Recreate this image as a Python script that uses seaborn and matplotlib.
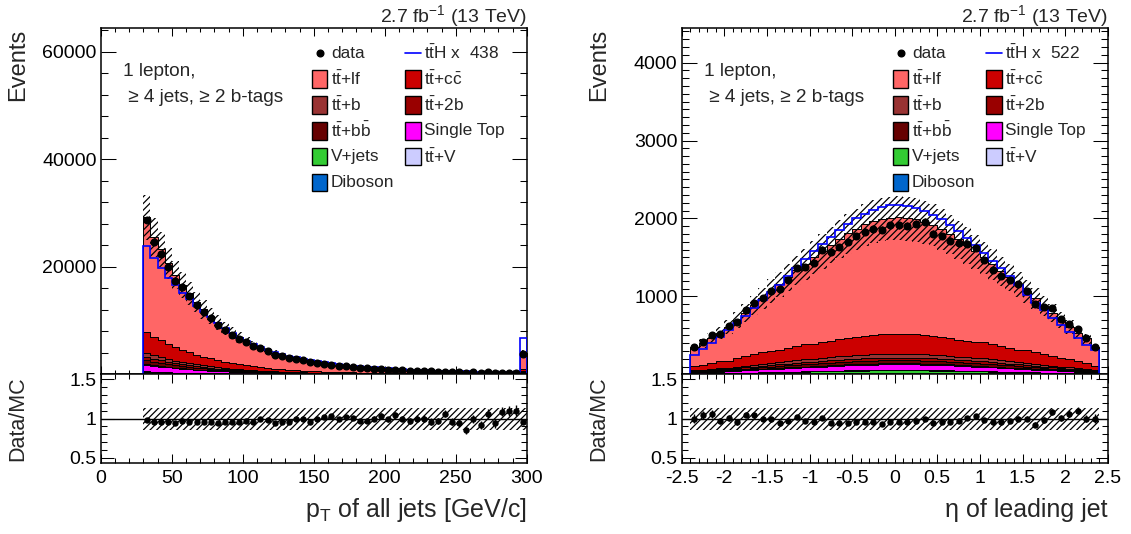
import numpy as np
import pandas as pd
import matplotlib
matplotlib.use("Agg")
import matplotlib.pyplot as plt
import seaborn as sns
from matplotlib.patches import Rectangle
from matplotlib.lines import Line2D
from matplotlib.ticker import MultipleLocator, FixedLocator, FixedFormatter, FuncFormatter

# ======================= DATA: left panel (pT of all jets) =======================
pt_edges = list(range(30, 305, 5))          # 54 bins, last bin carries the overflow
pt_ttlf = [21380, 18690, 17010, 15110, 13500, 12195, 11025, 9854, 8834, 7956,
           7081, 6278, 5621, 5001, 4454, 3978, 3541, 3176, 2846, 2554,
           2299, 2081, 1876, 1700, 1540, 1402, 1276, 1168, 1066, 979,
           897, 825, 759, 701, 645, 595, 551, 511, 474, 441,
           409, 380, 353, 328, 306, 287, 266, 251, 233, 219,
           205, 193, 182, 2846]
pt_ttcc = [3900, 3400, 3100, 2750, 2460, 2220, 2010, 1796, 1609, 1450,
           1290, 1144, 1024, 911, 811, 725, 645, 579, 519, 466,
           419, 379, 342, 310, 281, 255, 233, 213, 194, 178,
           164, 150, 138, 128, 118, 108, 100, 93, 86, 80,
           74, 69, 65, 60, 56, 52, 49, 45, 43, 40,
           38, 35, 33, 519]
pt_ttb = [760, 670, 605, 540, 480, 435, 393, 351, 315, 283,
          252, 224, 200, 178, 159, 142, 126, 113, 101, 91,
          82, 74, 67, 61, 55, 50, 46, 42, 38, 35,
          32, 29, 27, 25, 23, 21, 20, 18, 17, 16,
          15, 14, 13, 12, 11, 10, 10, 9, 8, 8,
          7, 7, 7, 101]
pt_tt2b = [620, 540, 490, 435, 390, 350, 317, 284, 254, 229,
           204, 181, 162, 144, 128, 114, 102, 91, 82, 74,
           66, 60, 54, 49, 44, 40, 37, 34, 31, 28,
           26, 24, 22, 20, 19, 17, 16, 15, 14, 13,
           12, 11, 10, 9, 9, 8, 8, 7, 7, 6,
           6, 6, 5, 82]
pt_ttbb = [700, 610, 560, 500, 445, 400, 360, 324, 290, 262,
           233, 206, 185, 164, 146, 131, 116, 104, 94, 84,
           76, 68, 62, 56, 51, 46, 42, 38, 35, 32,
           30, 27, 25, 23, 21, 20, 18, 17, 16, 15,
           13, 12, 12, 11, 10, 9, 9, 8, 8, 7,
           7, 6, 6, 94]
pt_ttv = [120, 100, 95, 85, 75, 67, 60, 54, 48, 44,
          39, 34, 31, 27, 24, 22, 19, 17, 16, 14,
          13, 11, 10, 9, 8, 8, 7, 6, 6, 5,
          5, 5, 4, 4, 4, 3, 3, 3, 3, 2,
          2, 2, 2, 2, 2, 2, 1, 1, 1, 1,
          1, 1, 1, 16]
pt_st = [1290, 1130, 1025, 910, 815, 735, 665, 594, 532, 480,
         427, 378, 339, 301, 268, 240, 213, 191, 172, 154,
         139, 125, 113, 103, 93, 84, 77, 70, 64, 59,
         54, 50, 46, 42, 39, 36, 33, 31, 29, 27,
         25, 23, 21, 20, 18, 17, 16, 15, 14, 13,
         12, 12, 11, 172]
pt_vjets = [470, 410, 370, 330, 295, 265, 240, 216, 194, 174,
            155, 138, 123, 110, 98, 87, 78, 70, 62, 56,
            50, 46, 41, 37, 34, 31, 28, 26, 23, 21,
            20, 18, 17, 15, 14, 13, 12, 11, 10, 10,
            9, 8, 8, 7, 7, 6, 6, 5, 5, 5,
            5, 4, 4, 62]
pt_diboson = [60, 50, 45, 40, 37, 33, 30, 27, 24, 22,
              19, 17, 15, 14, 12, 11, 10, 9, 8, 7,
              6, 6, 5, 5, 4, 4, 4, 3, 3, 3,
              2, 2, 2, 2, 2, 2, 2, 1, 1, 1,
              1, 1, 1, 1, 1, 1, 1, 1, 1, 1,
              1, 1, 1, 8]
pt_tth = [23850, 21550, 19700, 17950, 16600, 15050, 13930, 12690, 11630, 10590,
          9580, 8540, 7600, 6800, 6230, 5600, 5050, 4600, 4200, 3800,
          3450, 3150, 2880, 2640, 2420, 2220, 2040, 1880, 1730, 1600,
          1480, 1370, 1270, 1180, 1100, 1025, 955, 890, 830, 775,
          725, 680, 635, 595, 560, 525, 495, 465, 440, 415,
          390, 370, 350, 6700]
pt_data = [28700, 24600, 22400, 19900, 17400, 16200, 14500, 12960, 11600, 10460,
           9120, 8260, 7390, 6580, 5920, 5230, 4800, 4260, 3670, 3360,
           3020, 2820, 2570, 2240, 2090, 1960, 1800, 1600, 1490, 1350,
           1190, 1100, 1040, 990, 876, 848, 755, 679, 650, 605,
           538, 504, 514, 432, 395, 333, 362, 315, 339, 282,
           307, 289, 275, 3740]
pt_tth_scale = 438

# ======================= DATA: right panel (eta of leading jet) =======================
eta_edges = [round(-2.4 + 0.1 * i, 2) for i in range(49)]   # 48 bins
eta_ttlf = [237, 275, 323, 365, 433, 497, 561, 628, 695,
            781, 844, 907, 971, 1031,
            1115, 1175, 1235, 1290, 1343, 1387, 1428, 1458, 1480, 1493,
            1498, 1488, 1475, 1454, 1425, 1383, 1339, 1289, 1231, 1171,
            1089, 1029, 966, 906, 840,
            757, 693, 625, 561, 497, 420, 365, 316, 237]
eta_ttcc = [57, 66, 78, 87, 92, 105, 119, 133, 147,
            148, 160, 173, 184, 196,
            190, 200, 210, 219, 228, 236, 243, 248, 251, 253,
            253, 253, 251, 247, 242, 235, 227, 219, 209, 199,
            207, 195, 184, 172, 159,
            160, 146, 132, 119, 105, 101, 87, 76, 57]
eta_ttb = [10, 12, 14, 16, 17, 20, 22, 25, 27,
           28, 30, 33, 35, 37,
           38, 40, 42, 44, 45, 47, 48, 49, 50, 50,
           50, 50, 50, 49, 48, 47, 45, 43, 42, 40,
           39, 37, 35, 32, 30,
           30, 27, 25, 22, 20, 18, 16, 14, 10]
eta_tt2b = [7, 8, 10, 11, 12, 13, 15, 17, 19,
            19, 21, 23, 24, 26,
            26, 27, 28, 30, 31, 32, 33, 33, 34, 34,
            34, 34, 34, 33, 33, 32, 31, 29, 28, 27,
            27, 25, 24, 22, 21,
            20, 19, 17, 15, 13, 13, 11, 10, 7]
eta_ttbb = [8, 10, 11, 13, 13, 15, 17, 19, 22,
            23, 24, 26, 28, 30,
            30, 32, 33, 35, 36, 37, 39, 39, 40, 40,
            40, 40, 40, 39, 38, 37, 36, 35, 33, 32,
            32, 30, 28, 26, 24,
            23, 21, 19, 17, 15, 15, 13, 11, 8]
eta_ttv = [3, 3, 4, 4, 5, 6, 6, 7, 8,
           8, 8, 9, 9, 10,
           11, 11, 12, 12, 13, 13, 13, 14, 14, 14,
           14, 14, 14, 14, 13, 13, 13, 12, 12, 11,
           11, 10, 9, 9, 8,
           9, 8, 7, 6, 6, 5, 4, 4, 3]
eta_st = [14, 16, 19, 21, 23, 27, 30, 34, 37,
          40, 43, 46, 49, 53,
          54, 57, 60, 63, 65, 67, 69, 71, 72, 72,
          72, 72, 72, 71, 69, 67, 65, 62, 60, 57,
          56, 52, 49, 46, 43,
          40, 37, 33, 30, 27, 24, 21, 18, 14]
eta_vjets = [8, 9, 10, 12, 14, 16, 18, 20, 23,
             26, 28, 30, 32, 34,
             38, 40, 42, 44, 45, 47, 48, 49, 50, 50,
             50, 50, 50, 49, 48, 47, 45, 43, 42, 40,
             36, 34, 32, 30, 28,
             24, 22, 20, 18, 16, 13, 12, 10, 8]
eta_diboson = [1, 1, 1, 1, 1, 1, 2, 2, 2,
               2, 2, 3, 3, 3,
               3, 3, 3, 3, 4, 4, 4, 4, 4, 4,
               4, 4, 4, 4, 4, 4, 4, 3, 3, 3,
               3, 3, 3, 2, 2,
               2, 2, 2, 2, 1, 1, 1, 1, 1]
eta_tth = [252, 320, 400, 485, 570, 660, 750, 850, 950, 1050,
           1150, 1260, 1370, 1480, 1580, 1670, 1760, 1850, 1930, 2000,
           2060, 2110, 2150, 2170, 2170, 2160, 2140, 2100, 2050, 1990,
           1920, 1840, 1750, 1660, 1560, 1460, 1360, 1260, 1150, 1020,
           920, 820, 720, 630, 540, 460, 380, 310]
eta_data = [345, 416, 498, 514, 616, 665, 830, 920, 980, 1064,
            1090, 1213, 1362, 1377, 1430, 1601, 1565, 1636, 1701, 1777,
            1829, 1867, 1855, 1910, 1914, 1905, 1930, 1960, 1805, 1772,
            1715, 1683, 1677, 1627, 1470, 1344, 1264, 1208, 1155, 1065,
            897, 862, 853, 707, 647, 583, 460, 345]
eta_tth_scale = 522

# relative systematic band (read from the hatched areas)
band_up = 0.135
band_dn = 0.145

# ======================= STYLE =======================
STACK_ORDER = ["tt+lf", "tt+cc", "tt+b", "tt+2b", "tt+bb", "tt+V",
               "Single Top", "Diboson", "V+jets"]          # top -> bottom
COLORS = {"tt+lf": "#FF6666", "tt+cc": "#CC0000", "tt+b": "#993333",
          "tt+2b": "#990000", "tt+bb": "#660000", "Single Top": "#FF00FF",
          "V+jets": "#33CC33", "tt+V": "#CCCCFF", "Diboson": "#0066CC"}
TT = r"t$\bar{\mathrm{t}}$"
LABELS = {"tt+lf": TT + "+lf", "tt+cc": TT + r"+c$\bar{\mathrm{c}}$",
          "tt+b": TT + "+b", "tt+2b": TT + "+2b",
          "tt+bb": TT + r"+b$\bar{\mathrm{b}}$", "Single Top": "Single Top",
          "V+jets": "V+jets", "tt+V": TT + "+V", "Diboson": "Diboson"}

sns.set_style("ticks")
plt.rcParams["font.family"] = ["Liberation Sans", "DejaVu Sans"]
plt.rcParams["mathtext.fontset"] = "custom"
plt.rcParams["mathtext.rm"] = "Liberation Sans"
plt.rcParams["mathtext.it"] = "Liberation Sans:italic"
plt.rcParams["mathtext.bf"] = "Liberation Sans:bold"
plt.rcParams["hatch.linewidth"] = 0.9
plt.rcParams["axes.unicode_minus"] = False

W, H = 1131, 534
fig = plt.figure(figsize=(W / 100, H / 100), dpi=100)


def px_rect(x0, y0, x1, y1):
    return [x0 / W, 1 - y1 / H, (x1 - x0) / W, (y1 - y0) / H]


axL = fig.add_axes(px_rect(100.7, 28.3, 526.7, 374.3))
rL = fig.add_axes(px_rect(100.7, 374.3, 526.7, 462.7))
axR = fig.add_axes(px_rect(681.7, 28.3, 1107.7, 374.3))
rR = fig.add_axes(px_rect(681.7, 374.3, 1107.7, 462.7))

TICK_FS = 14
HATCH = "/////"


def frame(ax, xmaj_len, xmin_len, ymaj_len, ymin_len):
    for s in ax.spines.values():
        s.set_linewidth(1.1)
        s.set_color("black")
        s.set_visible(True)
    ax.tick_params(which="both", direction="in", top=True, right=True,
                   bottom=True, left=True, width=0.75, colors="black",
                   labelsize=TICK_FS)
    ax.tick_params(axis="x", which="major", length=xmaj_len, pad=5)
    ax.tick_params(axis="x", which="minor", length=xmin_len)
    ax.tick_params(axis="y", which="major", length=ymaj_len, pad=3)
    ax.tick_params(axis="y", which="minor", length=ymin_len)
    ax.set_xlabel("")
    ax.set_ylabel("")


def draw_panel(ax, rax, edges, comps, tth, data, tth_scale, xlim, ymax,
               ymajor, yminor, xmajor, xminor, xlabel):
    edges = np.asarray(edges, dtype=float)
    centers = 0.5 * (edges[:-1] + edges[1:])
    rows = []
    for p in STACK_ORDER:
        for c, v in zip(centers, comps[p]):
            rows.append((c, v, p))
    df = pd.DataFrame(rows, columns=["x", "w", "process"])
    sns.histplot(data=df, x="x", weights="w", hue="process",
                 hue_order=STACK_ORDER, multiple="stack",
                 bins=len(edges) - 1, binrange=(edges[0], edges[-1]),
                 element="step", palette=COLORS, edgecolor="black",
                 linewidth=0.7, alpha=1, legend=False, ax=ax, zorder=2)
    total = np.sum([np.asarray(comps[p], dtype=float) for p in STACK_ORDER], axis=0)
    data = np.asarray(data, dtype=float)
    tth = np.asarray(tth, dtype=float)

    # hatched uncertainty band
    ax.stairs(total * (1 + band_up), edges, baseline=total * (1 - band_dn),
              fill=True, facecolor="none", edgecolor="black", hatch=HATCH,
              linewidth=0, zorder=3)
    # signal line
    ax.stairs(tth, edges, baseline=0, color="#0000FF", linewidth=1.2, zorder=4)
    # data
    ax.errorbar(centers, data, yerr=np.sqrt(data), fmt="o", color="black",
                ms=4.8, elinewidth=1, capsize=0, zorder=5)

    ax.set_xlim(*xlim)
    ax.set_ylim(0, ymax)
    ax.yaxis.set_major_locator(FixedLocator(ymajor))
    ax.yaxis.set_major_formatter(FixedFormatter([("" if v == 0 else "%d" % v) for v in ymajor]))
    ax.yaxis.set_minor_locator(MultipleLocator(yminor))
    ax.xaxis.set_major_locator(MultipleLocator(xmajor))
    ax.xaxis.set_minor_locator(MultipleLocator(xminor))
    frame(ax, 6.0, 3.0, 10.8, 5.0)
    ax.tick_params(axis="x", labelbottom=False)

    # ratio panel
    ratio = data / total
    rerr = np.sqrt(data) / total
    rax.stairs(np.full(len(total), 1 + band_up), edges,
               baseline=np.full(len(total), 1 - band_dn), fill=True,
               facecolor="none", edgecolor="black", hatch=HATCH,
               linewidth=0, zorder=2)
    rax.axhline(1.0, color="black", linewidth=1.0, zorder=3)
    rax.errorbar(centers, ratio, yerr=rerr, fmt="o", color="black", ms=3.6,
                 elinewidth=1, capsize=0, zorder=5)
    rax.set_xlim(*xlim)
    rax.set_ylim(0.44, 1.56)
    rax.yaxis.set_major_locator(FixedLocator([0.5, 1.0, 1.5]))
    rax.yaxis.set_major_formatter(FixedFormatter(["0.5", "1", "1.5"]))
    rax.yaxis.set_minor_locator(MultipleLocator(0.1))
    rax.xaxis.set_major_locator(MultipleLocator(xmajor))
    rax.xaxis.set_minor_locator(MultipleLocator(xminor))
    rax.xaxis.set_major_formatter(FuncFormatter(lambda v, pos: "%g" % v))
    frame(rax, 6.8, 3.6, 9.0, 4.3)

    # axis titles
    ax.text(-0.195, 1.0, "Events", rotation=90, ha="center", va="top",
            transform=ax.transAxes, fontsize=17)
    rax.text(-0.194, 0.5, "Data/MC", rotation=90, ha="center", va="center",
             transform=rax.transAxes, fontsize=15.5)
    rax.text(1.0, -0.61, xlabel, ha="right", va="baseline",
             transform=rax.transAxes, fontsize=18)
    # header and region text
    ax.text(1.0, 1.019, r"2.7 fb$^{\mathrm{-1}}$ (13 TeV)", ha="right",
            va="baseline", transform=ax.transAxes, fontsize=14)
    ax.text(0.053, 0.8737, "1 lepton,", ha="left", va="center",
            transform=ax.transAxes, fontsize=13.7)
    ax.text(0.053, 0.7994, " \u2265 4 jets, \u2265 2 b-tags", ha="left",
            va="center", transform=ax.transAxes, fontsize=13.7)

    # legend (two columns, ROOT-like layout)
    entries = [("data", "data", "black"),
               (TT + "H x  %d" % tth_scale, "line", "#0000FF")]
    for p in ["tt+lf", "tt+cc", "tt+b", "tt+2b", "tt+bb", "Single Top",
              "V+jets", "tt+V", "Diboson"]:
        entries.append((LABELS[p], "box", COLORS[p]))
    axw, axh = 426.0, 346.0
    col_box = [211.0, 304.3]
    box_w, box_h = 15.6, 17.6
    for i, (lab, kind, col) in enumerate(entries):
        c, r = i % 2, i // 2
        yc = 1 - (53.3 + 25.8 * r - 28.3) / axh
        x0 = col_box[c] / axw
        if kind == "box":
            ax.add_patch(Rectangle((x0, yc - box_h / 2 / axh), box_w / axw,
                                   box_h / axh, transform=ax.transAxes,
                                   facecolor=col, edgecolor="black",
                                   linewidth=1.0, zorder=8))
        elif kind == "line":
            ax.add_line(Line2D([x0, x0 + box_w / axw], [yc, yc],
                               transform=ax.transAxes, color=col,
                               linewidth=1.2, zorder=8))
        else:
            ax.add_line(Line2D([x0 + box_w / 2 / axw], [yc], marker="o",
                               ms=4.8, color=col, transform=ax.transAxes,
                               zorder=8))
        ax.text(x0 + (box_w + 3.7) / axw, yc, lab, ha="left", va="center",
                transform=ax.transAxes, fontsize=12.4, zorder=8)


pt_comps = {"tt+lf": pt_ttlf, "tt+cc": pt_ttcc, "tt+b": pt_ttb,
            "tt+2b": pt_tt2b, "tt+bb": pt_ttbb, "tt+V": pt_ttv,
            "Single Top": pt_st, "V+jets": pt_vjets, "Diboson": pt_diboson}
eta_comps = {"tt+lf": eta_ttlf, "tt+cc": eta_ttcc, "tt+b": eta_ttb,
             "tt+2b": eta_tt2b, "tt+bb": eta_ttbb, "tt+V": eta_ttv,
             "Single Top": eta_st, "V+jets": eta_vjets, "Diboson": eta_diboson}

draw_panel(axL, rL, pt_edges, pt_comps, pt_tth, pt_data, pt_tth_scale,
           (0, 300), 64350, [0, 20000, 40000, 60000], 4000, 50, 10,
           r"p$_{\mathrm{T}}$ of all jets [GeV/c]")
draw_panel(axR, rR, eta_edges, eta_comps, eta_tth, eta_data, eta_tth_scale,
           (-2.5, 2.5), 4440, [0, 1000, 2000, 3000, 4000], 100, 0.5, 0.1,
           "\u03b7 of leading jet")

fig.savefig("out.png", dpi=100)
